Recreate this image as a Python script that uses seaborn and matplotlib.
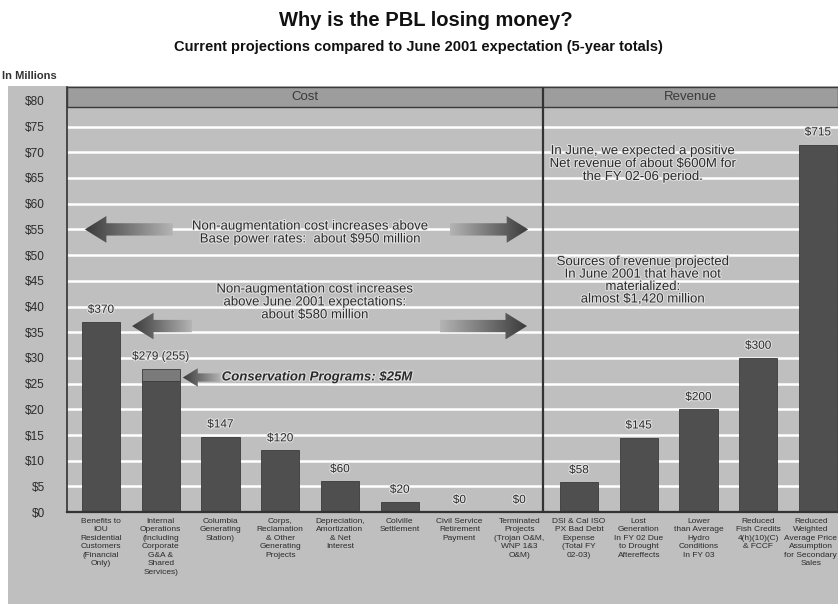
import numpy as np
import pandas as pd
import matplotlib
matplotlib.use("Agg")
import matplotlib.pyplot as plt
import seaborn as sns
from matplotlib.patches import FancyArrow, Rectangle
from matplotlib.colors import LinearSegmentedColormap
import matplotlib.patheffects as pe

sns.set_theme(style="white")
plt.rcParams["font.family"] = ["Liberation Sans", "DejaVu Sans"]

# bar heights in axis units ($ axis)
categories = [
    "Benefits to\nIOU\nResidential\nCustomers\n(Financial\nOnly)",
    "Internal\nOperations\n(Including\nCorporate\nG&A &\nShared\nServices)",
    "Columbia\nGenerating\nStation)",
    "Corps,\nReclamation\n& Other\nGenerating\nProjects",
    "Depreciation,\nAmortization\n& Net\nInterest",
    "Colville\nSettlement",
    "Civil Service\nRetirement\nPayment",
    "Terminated\nProjects\n(Trojan O&M,\nWNP 1&3\nO&M)",
    "DSI & Cal ISO\nPX Bad Debt\nExpense\n(Total FY\n02-03)",
    "Lost\nGeneration\nIn FY 02 Due\nto Drought\nAftereffects",
    "Lower\nthan Average\nHydro\nConditions\nIn FY 03",
    "Reduced\nFish Credits\n4(h)(10)(C)\n& FCCF",
    "Reduced\nWeighted\nAverage Price\nAssumption\nfor Secondary\nSales",
]
base_heights = [37.0, 25.5, 14.7, 12.0, 6.0, 2.0, 0, 0, 5.8, 14.5, 20.0, 30.0, 71.5]
conservation_extra = 2.4  # lighter top of the Internal Operations bar ($25M)
value_labels = ["$370", "$279 (255)", "$147", "$120", "$60", "$20", "$0", "$0",
                "$58", "$145", "$200", "$300", "$715"]
yticks = list(range(0, 85, 5))

bg = "#bfbfbf"
bar_col = "#4f4f4f"
txt = "#2b2b2b"
halo = [pe.withStroke(linewidth=1.5, foreground="#e2e2e2")]

df = pd.DataFrame({"cat": categories, "h": base_heights})

fig = plt.figure(figsize=(8.38, 6.04), dpi=100)
fig.patch.set_facecolor("white")
fig.patches.append(Rectangle((8 / 838, 0), 1, 1 - 86 / 604, transform=fig.transFigure,
                             facecolor=bg, edgecolor="none", zorder=-10))

ax = fig.add_axes([67 / 838, 0.152, 1 - 67 / 838, 0.704])
ax.set_facecolor(bg)

sns.barplot(data=df, x="cat", y="h", color=bar_col, saturation=1, width=0.64,
            edgecolor="#3a3a3a", linewidth=0.6, ax=ax, zorder=2)
ax.bar(1, conservation_extra, bottom=base_heights[1], width=0.64, color="#7a7a7a",
       edgecolor="#3a3a3a", linewidth=0.6, zorder=2)

# value labels
for i, lab in enumerate(value_labels):
    top = base_heights[i] + (conservation_extra if i == 1 else 0)
    ax.text(i, top + 1.2, lab, ha="center", va="bottom", fontsize=8.5,
            color=txt, path_effects=halo, zorder=5)

# grid
for y in yticks[1:-1]:
    ax.axhline(y, color="white", lw=1.8, zorder=1)

xl = (-0.569, 12.335)
ax.set_xlim(*xl)
ax.set_ylim(0, 82.7)

# header band
ax.add_patch(Rectangle((xl[0], 78.8), xl[1] - xl[0], 3.9, facecolor="#9d9d9d",
                       edgecolor="#3a3a3a", lw=1.0, zorder=3, clip_on=False))
divider = 7.40
ax.plot([divider, divider], [0, 82.7], color="#333333", lw=1.6, zorder=4)
ax.text((xl[0] + divider) / 2, 80.8, "Cost", ha="center", va="center", fontsize=9.5,
        color="#3a3a3a", zorder=5)
ax.text((divider + xl[1]) / 2, 80.8, "Revenue", ha="center", va="center", fontsize=9.5,
        color="#3a3a3a", zorder=5)

# gradient arrows
cmap = LinearSegmentedColormap.from_list("arr", ["#b4b4b4", "#3a3a3a"])


def grad_arrow(x0, x1, y, w, hw, hl):
    arr = FancyArrow(x0, y, x1 - x0, 0, width=w, head_width=hw, head_length=hl,
                     length_includes_head=True, facecolor="none", edgecolor="none")
    ax.add_patch(arr)
    g = np.linspace(0, 1, 256).reshape(1, -1)
    if x1 < x0:
        g = g[:, ::-1]
    im = ax.imshow(g, extent=[min(x0, x1), max(x0, x1), y - hw / 2, y + hw / 2],
                   cmap=cmap, aspect="auto", origin="lower", zorder=3)
    im.set_clip_path(arr)


grad_arrow(1.20, -0.27, 55.0, 2.4, 5.2, 0.36)
grad_arrow(5.84, 7.15, 55.0, 2.4, 5.2, 0.36)
grad_arrow(1.52, 0.52, 36.2, 2.4, 5.2, 0.36)
grad_arrow(5.67, 7.13, 36.2, 2.4, 5.2, 0.36)
grad_arrow(2.00, 1.37, 26.2, 1.6, 3.6, 0.25)

ax.set_xlim(*xl)
ax.set_ylim(0, 82.7)

ax.text(3.50, 54.3, "Non-augmentation cost increases above\nBase power rates:  about $950 million",
        ha="center", va="center", fontsize=9.5, color=txt, linespacing=1.1,
        path_effects=halo, zorder=5)
ax.text(3.58, 40.8, "Non-augmentation cost increases\nabove June 2001 expectations:\nabout $580 million",
        ha="center", va="center", fontsize=9.5, color=txt, linespacing=1.1,
        path_effects=halo, zorder=5)
ax.text(2.02, 26.2, "Conservation Programs: $25M", ha="left", va="center", fontsize=9.5,
        fontstyle="italic", fontweight="bold", color=txt, path_effects=halo, zorder=5)
ax.text(9.07, 67.7, "In June, we expected a positive\nNet revenue of about $600M for\nthe FY 02-06 period.",
        ha="center", va="center", fontsize=9.5, color=txt, linespacing=1.1,
        path_effects=halo, zorder=5)
ax.text(9.07, 45.0, "Sources of revenue projected\nIn June 2001 that have not\nmaterialized:\nalmost $1,420 million",
        ha="center", va="center", fontsize=9.5, color=txt, linespacing=1.05,
        path_effects=halo, zorder=5)

# axes styling
ax.set_yticks(yticks)
ax.set_yticklabels([f"${v}" for v in yticks], fontsize=8.5, color=txt)
ax.set_xticks(range(len(categories)))
ax.set_xticklabels([])
# category labels as plain texts so the last one can sit a bit inside the right edge
for i, cat in enumerate(categories):
    xpos = i - 0.12 if i == len(categories) - 1 else i
    ax.text(xpos, -1.1, cat, ha="center", va="top", fontsize=6, color=txt,
            linespacing=1.3, clip_on=False)
ax.tick_params(axis="y", length=0, pad=16)
ax.tick_params(axis="x", length=0)
ax.set_xlabel("")
ax.set_ylabel("")
for s in ["top", "right"]:
    ax.spines[s].set_visible(False)
ax.spines["left"].set_color("#333333")
ax.spines["left"].set_linewidth(1.2)
ax.spines["bottom"].set_color("#333333")
ax.spines["bottom"].set_linewidth(1.6)

fig.text(426 / 838, 1 - 20 / 604, "Why is the PBL losing money?", ha="center", va="center",
         fontsize=14.5, fontweight="bold", color="#111111")
fig.text(418 / 838, 1 - 47 / 604,
         "Current projections compared to June 2001 expectation (5-year totals)",
         ha="center", va="center", fontsize=10.5, fontweight="bold", color="#111111")
fig.text(2 / 838, 1 - 76 / 604, "In Millions", ha="left", va="center", fontsize=8,
         fontweight="bold", color="#333333")

fig.savefig("out.png", dpi=100)
